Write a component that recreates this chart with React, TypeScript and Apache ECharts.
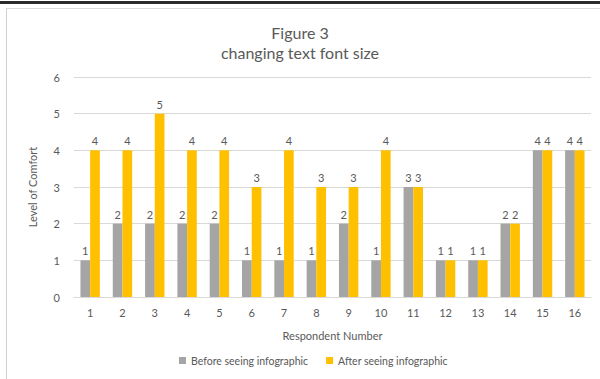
import React, { useEffect, useRef } from "react";
import * as echarts from "echarts";

const respondents = ["1", "2", "3", "4", "5", "6", "7", "8", "9", "10", "11", "12", "13", "14", "15", "16"];
const beforeSeeing = [1, 2, 2, 2, 2, 1, 1, 1, 2, 1, 3, 1, 1, 2, 4, 4];
const afterSeeing = [4, 4, 5, 4, 4, 3, 4, 3, 3, 4, 3, 1, 1, 2, 4, 4];
const seriesNames = ["Before seeing infographic", "After seeing infographic"];
const titleLines = ["Figure 3", "changing text font size"];

const FONT = "Lato, 'Open Sans', sans-serif";
const TEXT = "#595959";

export default function App() {
  const ref = useRef<HTMLDivElement>(null);

  useEffect(() => {
    document.body.style.margin = "0";
    const chart = echarts.init(ref.current!, null, { renderer: "svg" });
    const label = {
      show: true,
      position: "top" as const,
      color: TEXT,
      fontSize: 11,
      fontFamily: FONT,
      distance: 4,
    };
    chart.setOption({
      animation: false,
      backgroundColor: "#ffffff",
      title: {
        text: titleLines.join("\n"),
        left: "center",
        top: 17,
        textStyle: {
          color: TEXT,
          fontSize: 16,
          fontWeight: "normal",
          fontFamily: FONT,
          lineHeight: 20,
        },
      },
      graphic: [
        { type: "rect", shape: { x: 0, y: 1, width: 600, height: 3 }, style: { fill: "#2b2b2b" } },
        { type: "line", shape: { x1: 6, y1: 8.5, x2: 600, y2: 8.5 }, style: { stroke: "#d9d9d9", lineWidth: 1 } },
        { type: "line", shape: { x1: 6.5, y1: 8, x2: 6.5, y2: 379 }, style: { stroke: "#d0d0d0", lineWidth: 1 } },
      ],
      legend: {
        bottom: 8,
        left: 174,
        itemWidth: 7,
        itemHeight: 7,
        itemGap: 18,
        icon: "rect",
        textStyle: { color: TEXT, fontSize: 10.5, fontFamily: FONT },
        data: seriesNames,
      },
      grid: { left: 74, right: 9, top: 77, bottom: 82 },
      xAxis: {
        type: "category",
        data: respondents,
        name: "Respondent Number",
        nameLocation: "middle",
        nameGap: 33,
        nameTextStyle: { color: TEXT, fontSize: 11, fontFamily: FONT },
        axisLine: { lineStyle: { color: "#d9d9d9" } },
        axisTick: { show: false },
        axisLabel: { color: TEXT, fontSize: 11, fontFamily: FONT, margin: 10 },
      },
      yAxis: {
        type: "value",
        min: 0,
        max: 6,
        interval: 1,
        name: "Level of Comfort",
        nameLocation: "middle",
        nameGap: 36,
        nameTextStyle: { color: TEXT, fontSize: 11, fontFamily: FONT },
        axisLine: { show: false },
        axisTick: { show: false },
        axisLabel: { color: TEXT, fontSize: 11, fontFamily: FONT, margin: 14 },
        splitLine: { lineStyle: { color: "#d9d9d9" } },
      },
      series: [
        {
          name: seriesNames[0],
          type: "bar",
          data: beforeSeeing,
          itemStyle: { color: "#a5a5a5" },
          barGap: "0%",
          barCategoryGap: "40%",
          label,
        },
        {
          name: seriesNames[1],
          type: "bar",
          data: afterSeeing,
          itemStyle: { color: "#ffc000" },
          barGap: "0%",
          barCategoryGap: "40%",
          label,
        },
      ],
    });
    return () => chart.dispose();
  }, []);

  return <div ref={ref} style={{ width: 600, height: 379 }} />;
}
